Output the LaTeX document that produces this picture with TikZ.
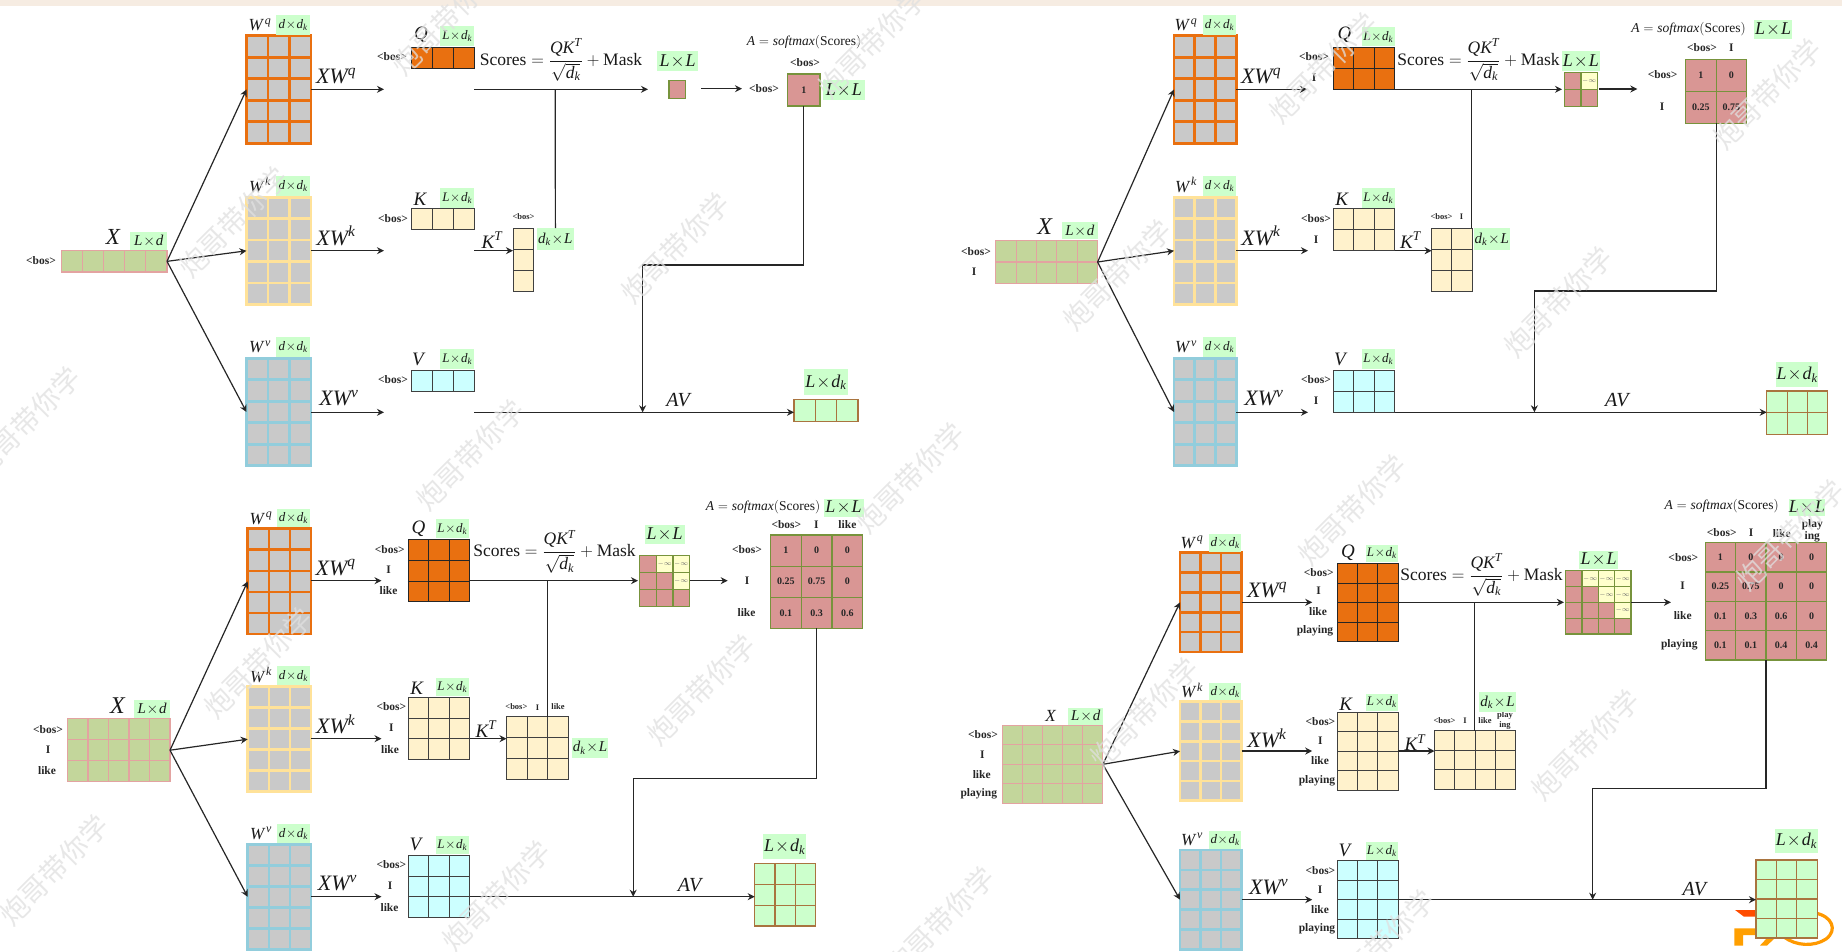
\documentclass[tikz,border=0pt]{standalone}
\usepackage{fix-cm}
\usepackage{amsmath}
\usepackage{fontspec}
\setmainfont{Liberation Serif}
\newfontfamily\cjk{Noto Sans CJK SC}
\usetikzlibrary{arrows.meta,calc}
\definecolor{band}{HTML}{F6ECE2}
\definecolor{cq}{HTML}{E97010}
\definecolor{ck}{HTML}{FFE299}
\definecolor{cv}{HTML}{92CDDC}
\definecolor{gg}{HTML}{C9C9C9}
\definecolor{kf}{HTML}{FFF2CC}
\definecolor{vf}{HTML}{CCFFFF}
\definecolor{xf}{HTML}{C3D69B}
\definecolor{xl}{HTML}{E3A3A1}
\definecolor{af}{HTML}{D99694}
\definecolor{al}{HTML}{77933C}
\definecolor{gb}{HTML}{CCFFCC}
\definecolor{ol}{HTML}{A9743F}
\definecolor{yc}{HTML}{FFFFCC}
\newcommand\fs[1]{\fontsize{#1}{#1}\selectfont}
\newcommand\mi[1]{\text{\itshape #1}}
\newcommand\tm{\mkern1mu{\times}\mkern1mu}
\newcounter{tc}
\tikzset{
  wq/.style={draw=cq,fill=gg,line width=2.6pt},
  wk/.style={draw=ck,fill=gg,line width=2.6pt},
  wv/.style={draw=cv,fill=gg,line width=2.6pt},
  xg/.style={draw=xl,fill=xf,line width=1.1pt},
  qg/.style={draw=black!85,fill=cq,line width=.8pt},
  kg/.style={draw=black!75,fill=kf,line width=.8pt},
  vg/.style={draw=black!75,fill=vf,line width=.8pt},
  ag/.style={draw=al,fill=af,line width=1.2pt},
  og/.style={draw=ol,fill=gb,line width=1.1pt},
  conn/.style={draw=black!85,line width=1.2pt},
  arr/.style={conn,-{Stealth[length=7pt,width=7pt]}},
  lab/.style={font=\fs{11.5}\bfseries,inner sep=0pt,text=black!85},
  small/.style={font=\fs{8.5}\bfseries,inner sep=0pt,text=black!85},
  val/.style={font=\fs{10}\bfseries,inner sep=0pt,text=black!85},
  sym/.style={inner sep=0pt,text=black!90},
  wm/.style={rotate=45,font=\cjk\fs{28},text=black!12,text opacity=.75,inner sep=0pt},
}
% named grid: name x0 y0 x1 y1 cols rows style
\newcommand\gridbox[8]{%
  \pgfmathsetmacro\gw{#4-(#2)}\pgfmathsetmacro\gh{#5-(#3)}%
  \node[#8,name=#1,rectangle,inner sep=0pt,outer sep=0pt,minimum width=\gw pt,minimum height=\gh pt,anchor=north west] at (#2,#3) {};
  \xdef\gxa{#2}\xdef\gya{#3}\xdef\gxb{#4}\xdef\gyb{#5}\xdef\gc{#6}\xdef\gr{#7}%
  \ifnum#6>1 \foreach \ii in {2,...,#6}{\pgfmathsetmacro\lx{#2+(\ii-1)*(#4-(#2))/#6}\path[#8,fill=none] (\lx,#3) -- (\lx,#5);}\fi
  \ifnum#7>1 \foreach \ii in {2,...,#7}{\pgfmathsetmacro\ly{#3+(\ii-1)*(#5-(#3))/#7}\path[#8,fill=none] (#2,\ly) -- (#4,\ly);}\fi
}
\newcommand\T[4][lab]{\stepcounter{tc}\node[#1,name=t\arabic{tc}] at (#2,#3) {#4};}
\newcommand\GB[7]{\pgfmathsetmacro\gw{#4-(#2)}\pgfmathsetmacro\gh{#5-(#3)}%
  \node[fill=gb,text=black!90,inner sep=0pt,name=#1,minimum width=\gw pt,minimum height=\gh pt,anchor=north west,font=\fs{#6}] at (#2,#3) {$#7$};}
\newcommand\vcell[3]{\pgfmathsetmacro\cxx{\gxa+(#1-.5)*(\gxb-\gxa)/\gc}\pgfmathsetmacro\cyy{\gya+(#2-.5)*(\gyb-\gya)/\gr}\T[val]{\cxx}{\cyy}{#3}}
\newcommand\ycell[2]{\pgfmathsetmacro\cxx{\gxa+(#1-.5)*(\gxb-\gxa)/\gc}\pgfmathsetmacro\cyy{\gya+(#2-.5)*(\gyb-\gya)/\gr}\pgfmathsetmacro\cww{(\gxb-\gxa)/\gc}\pgfmathsetmacro\chh{(\gyb-\gya)/\gr}\stepcounter{tc}%
  \node[draw=al,line width=1.2pt,fill=yc,inner sep=0pt,minimum width=\cww pt,minimum height=\chh pt,text=black!60,font=\fs{6.5},name=t\arabic{tc}] at (\cxx,\cyy) {$-\infty$};}
\newcommand\Wq{\mi{W}^{\,\mi{q}}}
\newcommand\Wk{\mi{W}^{\,\mi{k}}}
\newcommand\Wv{\mi{W}^{\,\mi{v}}}
\newcommand\dd{\mi{d}\tm\mi{d}_{\mi{k}}}
\newcommand\Ld{\mi{L}\tm\mi{d}_{\mi{k}}}
\newcommand\LL{\mi{L}\tm\mi{L}}
\newcommand\Dl{\mi{d}_{\mi{k}}\tm\mi{L}}
\newcommand\Lx{\mi{L}\tm\mi{d}}
\newcommand\Sc[2]{\T[sym,font=\fs{17.5}]{#1}{#2}{$\displaystyle\text{Scores}=\frac{\mi{QK}^{\mi{T}}}{\sqrt{\mi{d}_{\mi{k}}}}+\text{Mask}$}}
\newcommand\Sm[2]{\T[sym,font=\fs{13.5}]{#1}{#2}{$\mi{A}=\mi{softmax}(\text{Scores})$}}
\newcommand\M[4][22]{\T[sym,font=\fs{#1}]{#2}{#3}{$#4$}}
\begin{document}
\begin{tikzpicture}[x=1pt,y=-1pt]
\useasboundingbox (0,0) rectangle (1842,951);
\fill[white] (0,0) rectangle (1842,951);
\fill[band] (0,0) rectangle (1842,5.7);

% ---------- panel 1
\gridbox{aX}{61.6}{250.7}{167}{272}{5}{1}{xg}
\gridbox{aWq}{246.5}{35.7}{311}{143.3}{3}{5}{wq}
\gridbox{aWk}{246.5}{197.3}{311}{304.3}{3}{5}{wk}
\gridbox{aWv}{246.5}{358.3}{311}{465.7}{3}{5}{wv}
\gridbox{aQ}{411}{47.3}{474}{68.3}{3}{1}{qg}
\gridbox{aK}{411}{208.3}{474}{229.3}{3}{1}{kg}
\gridbox{aV}{411}{370}{474}{391}{3}{1}{vg}
\gridbox{aKT}{513}{228}{533.5}{291.7}{1}{3}{kg}
\gridbox{aM}{669}{80.7}{685.5}{98.3}{1}{1}{ag}
\gridbox{aA}{787.5}{74}{820}{106}{1}{1}{ag}
\vcell{1}{1}{1}
\gridbox{aO}{794}{399.3}{858}{421.3}{3}{1}{og}
\M[23]{113}{237}{\mi{X}}
\GB{aG1}{130}{232}{167}{250}{15}{\Lx}
\T{41}{261}{<bos>}
\M[17]{260}{25}{\Wq}\GB{aG2}{276}{15}{310}{35}{13}{\dd}
\M[17]{260}{185}{\Wk}\GB{aG3}{276}{176}{310}{196}{13}{\dd}
\M[17]{260}{347}{\Wv}\GB{aG4}{276}{337}{310}{357}{13}{\dd}
\M{336}{76}{\mi{XW}^{\mi{q}}}\M{336}{236}{\mi{XW}^{\mi{k}}}\M{339}{398}{\mi{XW}^{\mi{v}}}
\M[19]{421}{35}{\mi{Q}}\GB{aG5}{440}{26}{474}{46}{13}{\Ld}\T{392}{57}{<bos>}
\M[19]{420}{199}{\mi{K}}\GB{aG6}{440}{188}{474}{207.3}{13}{\Ld}\T{393}{219}{<bos>}
\M[19]{418}{359}{\mi{V}}\GB{aG7}{440}{349}{474}{369}{13}{\Ld}\T{393}{380}{<bos>}
\Sc{561}{60}
\GB{aG8}{657}{51}{698}{71}{18}{\LL}
\T{764}{89}{<bos>}
\GB{aG9}{823}{80}{864.4}{100}{18}{\LL}
\Sm{804}{41.7}
\T{805}{62.7}{<bos>}
\M[19]{492}{240}{\mi{K}^{\mi{T}}}
\T[small]{523.5}{217}{<bos>}
\GB{aG10}{536.4}{228}{574}{250}{15}{\Dl}
\GB{aG11}{804}{369}{847.4}{395}{18}{\Ld}
\M[20]{678}{400}{\mi{AV}}
\coordinate (aq1) at (384,89.3);\coordinate (aq2) at (474,89.3);\coordinate (aq3) at (648,89.3);
\coordinate (aq4) at (701,88.7);\coordinate (aq5) at (742,88.7);\coordinate (aJ) at (555.2,89.3);
\coordinate (ak1) at (384,250.7);\coordinate (ak2) at (474,250.7);
\coordinate (av1) at (384,412.3);\coordinate (av2) at (474,412.3);
\coordinate (aP) at (642.6,265);\coordinate (aN) at (642.6,412.3);
\draw[arr] (aX.east)--(aWq.west);\draw[arr] (aX.east)--(aWk.west);\draw[arr] (aX.east)--(aWv.west);
\draw[arr] (aWq.east|-aq1)--(aq1);\draw[arr] (aWk.east|-ak1)--(ak1);\draw[arr] (aWv.east|-av1)--(av1);
\draw[arr] (aq2)--(aq3);\draw[arr] (aq4)--(aq5);\draw[conn] (aJ)--(aG10.north);
\draw[arr] (ak2)--(ak2-|aKT.west);
\draw[arr] (av2)--(av2-|aO.west);
\draw[arr] (aA.south)|-(aP)--(aN);

% ---------- panel 2
\gridbox{bX}{995.9}{240.7}{1097.6}{283.3}{5}{2}{xg}
\gridbox{bWq}{1174}{35.7}{1236.3}{143.3}{3}{5}{wq}
\gridbox{bWk}{1174}{197.3}{1236.3}{304.3}{3}{5}{wk}
\gridbox{bWv}{1174}{358.3}{1236.3}{465.7}{3}{5}{wv}
\gridbox{bQ}{1333.4}{47.3}{1394.5}{89.3}{3}{2}{qg}
\gridbox{bK}{1333.4}{208.3}{1394.5}{250.7}{3}{2}{kg}
\gridbox{bV}{1333.4}{370}{1394.5}{412.3}{3}{2}{vg}
\gridbox{bKT}{1431.6}{228}{1472}{291.7}{2}{3}{kg}
\gridbox{bM}{1564.4}{72.3}{1597.4}{106.7}{2}{2}{ag}
\ycell{2}{1}
\gridbox{bA}{1685.5}{59.3}{1746.7}{123.3}{2}{2}{ag}
\vcell{1}{1}{1}\vcell{2}{1}{0}\vcell{1}{2}{0.25}\vcell{2}{2}{0.75}
\gridbox{bO}{1766.7}{391}{1827.8}{434.3}{3}{2}{og}
\M[24]{1044.7}{227}{\mi{X}}
\GB{bG1}{1061.7}{222}{1097.6}{239}{15}{\Lx}
\T{976}{252}{<bos>}\T{974}{272}{I}
\M[17]{1186}{25}{\Wq}\GB{bG2}{1202.8}{15}{1235.8}{35}{13}{\dd}
\M[17]{1186}{185}{\Wk}\GB{bG3}{1202.8}{176}{1235.8}{196}{13}{\dd}
\M[17]{1186}{347}{\Wv}\GB{bG4}{1202.8}{337}{1235.8}{357}{13}{\dd}
\M{1261}{76}{\mi{XW}^{\mi{q}}}\M{1261}{236}{\mi{XW}^{\mi{k}}}\M{1264}{398}{\mi{XW}^{\mi{v}}}
\M[19]{1344.5}{35}{\mi{Q}}\GB{bG5}{1361.6}{27}{1394.5}{46}{13}{\Ld}\T{1314}{57}{<bos>}\T{1314}{78}{I}
\M[19]{1341.6}{199}{\mi{K}}\GB{bG6}{1361.6}{188}{1394.5}{207.3}{13}{\Ld}\T{1316}{219}{<bos>}\T{1316}{240}{I}
\M[19]{1340}{359}{\mi{V}}\GB{bG7}{1361.6}{349}{1394.5}{369}{13}{\Ld}\T{1316}{380}{<bos>}\T{1316}{401}{I}
\Sc{1478.6}{60}
\GB{bG8}{1561.5}{51}{1600}{71}{18}{\LL}
\Sm{1688.5}{29}
\GB{bG9}{1753.8}{19.3}{1792}{38.3}{18}{\LL}
\T{1702}{48}{<bos>}\T{1731.4}{48}{I}\T{1662.6}{75}{<bos>}\T{1662}{107}{I}
\M[19]{1410.4}{240}{\mi{K}^{\mi{T}}}
\T[small]{1441.5}{217}{<bos>}\T[small]{1461.5}{217}{I}
\GB{bG10}{1473.3}{228}{1509.8}{250}{15}{\Dl}
\GB{bG11}{1776}{361.7}{1818}{386.7}{18}{\Ld}
\M[20]{1616.8}{400}{\mi{AV}}
\coordinate (bq1) at (1307,89.3);\coordinate (bq3) at (1562,89.3);\coordinate (bq4) at (1599,89);\coordinate (bq5) at (1637.3,89);
\coordinate (bk1) at (1308,250.7);\coordinate (bv1) at (1308,412.3);
\coordinate (bJ) at (1471.5,89.3);\coordinate (bJe) at (1471.5,228);
\coordinate (bP) at (1534.4,291);\coordinate (bN) at (1534.4,412.3);
\coordinate (bQe) at (1394.5,89.3);\coordinate (bKe) at (1394.5,250.7);\coordinate (bVe) at (1394.5,412.3);
\draw[arr] (bX.east)--(bWq.west);\draw[arr] (bX.east)--(bWk.west);\draw[arr] (bX.east)--(bWv.west);
\draw[arr] (bWq.east|-bq1)--(bq1);\draw[arr] (bWk.east|-bk1)--(bk1);\draw[arr] (bWv.east|-bv1)--(bv1);
\draw[arr] (bQe)--(bq3);\draw[arr] (bq4)--(bq5);\draw[conn] (bJ)--(bJe);
\draw[arr] (bKe)--(bKe-|bKT.west);
\draw[arr] (bVe)--(bVe-|bO.west);
\draw[arr] (bA.south)|-(bP)--(bN);

% ---------- panel 3
\gridbox{cX}{67.5}{718.7}{170}{781.7}{5}{3}{xg}
\gridbox{cWq}{247.7}{528.7}{311}{634}{3}{5}{wq}
\gridbox{cWk}{247.7}{686.7}{311}{791.7}{3}{5}{wk}
\gridbox{cWv}{247.7}{844.3}{311}{949.3}{3}{5}{wv}
\gridbox{cQ}{407.9}{539.3}{469.5}{601.7}{3}{3}{qg}
\gridbox{cK}{407.9}{697.3}{469.5}{759.3}{3}{3}{kg}
\gridbox{cV}{407.9}{855.3}{469.5}{917.3}{3}{3}{vg}
\gridbox{cKT}{506.5}{716.7}{568}{779}{3}{3}{kg}
\gridbox{cM}{639.7}{555.7}{689.6}{606.7}{3}{3}{ag}
\ycell{2}{1}\ycell{3}{1}\ycell{3}{2}
\gridbox{cA}{770.5}{535}{862.7}{628.3}{3}{3}{ag}
\foreach \cc/\rr/\vv in {1/1/1,2/1/0,3/1/0,1/2/0.25,2/2/0.75,3/2/0,1/3/0.1,2/3/0.3,3/3/0.6}{\vcell{\cc}{\rr}{\vv}}
\gridbox{cO}{754.7}{863.7}{815.7}{926}{3}{3}{og}
\M[24]{117.4}{706}{\mi{X}}
\GB{cG1}{133.8}{700}{170}{717.3}{15}{\Lx}
\T{48}{729.3}{<bos>}\T{48}{750}{I}\T{47}{771}{like}
\M[17]{261}{518.3}{\Wq}\GB{cG2}{277}{508.3}{309.3}{526.7}{13}{\dd}
\M[17]{261}{675}{\Wk}\GB{cG3}{277}{666}{309.3}{684.7}{13}{\dd}
\M[17]{261}{833.3}{\Wv}\GB{cG4}{277}{824}{309.3}{842.7}{13}{\dd}
\M{335.7}{567.7}{\mi{XW}^{\mi{q}}}\M{335.7}{724.3}{\mi{XW}^{\mi{k}}}\M{337.5}{883.3}{\mi{XW}^{\mi{v}}}
\M[19]{418.4}{528.3}{\mi{Q}}\GB{cG5}{436}{519}{468.3}{537.7}{13}{\Ld}
\T{389.7}{549.3}{<bos>}\T{388.5}{570}{I}\T{388.5}{590.3}{like}
\M[19]{416.7}{688.3}{\mi{K}}\GB{cG6}{436}{677.3}{468.3}{695.7}{13}{\Ld}
\T{391.4}{707}{<bos>}\T{391.4}{728}{I}\T{390}{749.3}{like}
\M[19]{415.5}{844.3}{\mi{V}}\GB{cG7}{436}{835.3}{468.3}{854}{13}{\Ld}
\T{391.4}{865}{<bos>}\T{390}{886}{I}\T{389.5}{907.3}{like}
\Sc{554.6}{551.5}
\GB{cG8}{644.4}{525}{684.3}{544}{18}{\LL}
\Sm{763}{506.7}
\GB{cG9}{823.3}{498.3}{863.3}{516.7}{18}{\LL}
\T{786.4}{524.3}{<bos>}\T{816.3}{524.3}{I}\T{847.4}{525}{like}
\T{747}{550}{<bos>}\T{747}{581}{I}\T{746.5}{612.3}{like}
\M[19]{486}{729}{\mi{K}^{\mi{T}}}
\T[small]{516.4}{706.7}{<bos>}\T[small]{537.6}{707.3}{I}\T[small]{558}{706.7}{like}
\GB{cG10}{572.2}{737.3}{607.4}{757.7}{15}{\Dl}
\GB{cG11}{763}{834}{805.8}{859}{18}{\Ld}
\M[20]{689.6}{885}{\mi{AV}}
\coordinate (cq1) at (381.5,580.7);\coordinate (cq3) at (638,580.7);\coordinate (cq5) at (727.7,580.7);
\coordinate (ck1) at (381.5,738.7);\coordinate (cv1) at (381.5,896.7);
\coordinate (cQe) at (469.5,580.7);\coordinate (cKe) at (469.5,738.7);\coordinate (cVe) at (469.5,896.7);
\coordinate (cJ) at (547.5,580.7);\coordinate (cJe) at (547.5,716.7);
\coordinate (cP) at (633.2,778.3);\coordinate (cN) at (633.2,896.7);
\draw[arr] (cX.east)--(cWq.west);\draw[arr] (cX.east)--(cWk.west);\draw[arr] (cX.east)--(cWv.west);
\draw[arr] (cWq.east|-cq1)--(cq1);\draw[arr] (cWk.east|-ck1)--(ck1);\draw[arr] (cWv.east|-cv1)--(cv1);
\draw[arr] (cQe)--(cq3);\draw[arr] (cM.east|-cq5)--(cq5);\draw[conn] (cJ)--(cJe);
\draw[arr] (cKe)--(cKe-|cKT.west);
\draw[arr] (cVe)--(cVe-|cO.west);
\draw[arr] (cA.south)|-(cP)--(cN);

% ---------- logo under the last output grid
\fill[white] (1725,905) rectangle (1842,951);
\fill[orange!60!red] (1735,910)--(1757,910)--(1757,916.7)--(1744,916.7)--cycle;
\fill[orange!75!yellow] (1734.3,928.3)--(1757,928.3)--(1757,935)--(1743,935)--(1743,945.5)--(1734.3,945.5)--cycle;
\fill[orange!75!yellow] (1760,945.5)--(1767,938)--(1775,938)--(1767,945.5)--cycle;
\draw[orange!80!yellow,line width=3.2pt] (1815,913) .. controls (1832,916) and (1838,930) .. (1826,939) .. controls (1814,947) and (1796,946) .. (1784,937);

% ---------- panel 4
\gridbox{dX}{1002.3}{725.3}{1102.9}{803.3}{5}{4}{xg}
\gridbox{dWq}{1180}{552.7}{1241.6}{652}{3}{5}{wq}
\gridbox{dWk}{1180}{701.7}{1241.6}{800.7}{3}{5}{wk}
\gridbox{dWv}{1180}{850}{1241.6}{949.3}{3}{5}{wv}
\gridbox{dQ}{1337.5}{563.3}{1398}{641.7}{3}{4}{qg}
\gridbox{dK}{1337.5}{712.3}{1398}{790.3}{3}{4}{kg}
\gridbox{dV}{1337.5}{860.7}{1398}{938.7}{3}{4}{vg}
\gridbox{dKT}{1434.5}{730.7}{1515.6}{789}{4}{3}{kg}
\gridbox{dM}{1565.6}{570.7}{1630.9}{634}{4}{4}{ag}
\ycell{2}{1}\ycell{3}{1}\ycell{4}{1}\ycell{3}{2}\ycell{4}{2}\ycell{4}{3}
\gridbox{dA}{1705.3}{542.7}{1826.7}{660}{4}{4}{ag}
\foreach \cc/\rr/\vv in {1/1/1,2/1/0,3/1/0,4/1/0,1/2/0.25,2/2/0.75,3/2/0,4/2/0,1/3/0.1,2/3/0.3,3/3/0.6,4/3/0,1/4/0.1,2/4/0.1,3/4/0.4,4/4/0.4}{\vcell{\cc}{\rr}{\vv}}
\gridbox{dO}{1756}{860}{1817.3}{938}{3}{4}{og}
\M[17]{1050.5}{716}{\mi{X}}
\GB{dG1}{1068.2}{708}{1102.9}{724.3}{15}{\Lx}
\T{983}{734.3}{<bos>}\T{982.3}{754.3}{I}\T{981.7}{774.7}{like}\T{978.8}{794}{playing}
\M[17]{1192}{542.3}{\Wq}\GB{dG2}{1208.7}{534}{1241}{551.7}{13}{\dd}
\M[17]{1192}{690.7}{\Wk}\GB{dG3}{1208.7}{682.7}{1241}{700}{13}{\dd}
\M[17]{1192}{839.3}{\Wv}\GB{dG4}{1208.7}{831}{1241}{848.7}{13}{\dd}
\M{1267}{590}{\mi{XW}^{\mi{q}}}\M{1267}{738.3}{\mi{XW}^{\mi{k}}}\M{1268.7}{887.3}{\mi{XW}^{\mi{v}}}
\M[19]{1348}{552.7}{\mi{Q}}\GB{dG5}{1365.7}{544.3}{1397.5}{562}{13}{\Ld}
\T{1318.7}{572.3}{<bos>}\T{1318.7}{591}{I}\T{1318}{611.3}{like}\T{1315}{631}{playing}
\M[19]{1345.7}{704}{\mi{K}}\GB{dG6}{1365.7}{693.3}{1397.5}{711}{13}{\Ld}
\T{1320.4}{721.3}{<bos>}\T{1320.4}{741}{I}\T{1320}{760.3}{like}\T{1317}{781}{playing}
\M[19]{1344.5}{850}{\mi{V}}\GB{dG7}{1365.7}{842}{1397.5}{860}{13}{\Ld}
\T{1320.4}{870.3}{<bos>}\T{1320}{889.3}{I}\T{1320}{909.3}{like}\T{1317}{929}{playing}
\Sc{1481.5}{575}
\GB{dG8}{1579}{550.7}{1618}{568.3}{18}{\LL}
\Sm{1721.7}{506}
\GB{dG9}{1788.3}{498.3}{1825}{515.7}{18}{\LL}
\T{1721.7}{532.3}{<bos>}\T{1751}{532.3}{I}\T{1781.7}{533.3}{like}\T{1812.3}{524.3}{play}\T{1812.3}{536.7}{ing}
\T{1683.3}{557.3}{<bos>}\T{1682.7}{586}{I}\T{1682.7}{615.3}{like}\T{1679.3}{645}{playing}
\M[19]{1415}{742.3}{\mi{K}^{\mi{T}}}
\T[small]{1444.5}{720.3}{<bos>}\T[small]{1465}{721}{I}\T[small]{1485}{720.3}{like}\T[small]{1505}{715.7}{play}\T[small]{1505}{725.7}{ing}
\GB{dG10}{1479.2}{692}{1515.6}{711.7}{15}{\Dl}
\GB{dG11}{1775}{828.3}{1817.3}{852.3}{18}{\Ld}
\M[20]{1694.4}{889}{\mi{AV}}
\coordinate (dq1) at (1312.2,602.3);\coordinate (dq3) at (1563.9,602.3);\coordinate (dq5) at (1670.9,602.3);
\coordinate (dk1) at (1312.2,751);\coordinate (dv1) at (1312.2,899.7);
\coordinate (dQe) at (1398,602.3);\coordinate (dKe) at (1398,751);\coordinate (dVe) at (1398,899.7);
\coordinate (dJ) at (1474.5,602.3);\coordinate (dJe) at (1474.5,730.7);
\coordinate (dP) at (1592.7,788.3);\coordinate (dN) at (1592.7,899.7);
\draw[arr] (dX.east)--(dWq.west);\draw[arr] (dX.east)--(dWk.west);\draw[arr] (dX.east)--(dWv.west);
\draw[arr] (dWq.east|-dq1)--(dq1);\draw[arr] (dWk.east|-dk1)--(dk1);\draw[arr] (dWv.east|-dv1)--(dv1);
\draw[arr] (dQe)--(dq3);\draw[arr] (dM.east|-dq5)--(dq5);\draw[conn] (dJ)--(dJe);
\draw[arr] (dKe)--(dKe-|dKT.west);
\draw[arr] (dVe)--(dVe-|dO.west);
\draw[arr] (dA.south)|-(dP)--(dN);

% ---------- watermarks
\foreach \wx/\wy in {446/20,233/222,675/248,26/422,470/455,872/43,910/478,1323/68,1767/94,1117/275,1558/302,1352/510,258/663,701/690,54/870,496/896,940/922,1144/713,1585/745,1380/945,1790/535}{\T[wm]{\wx}{\wy}{炮哥带你学}}
\end{tikzpicture}
\end{document}
